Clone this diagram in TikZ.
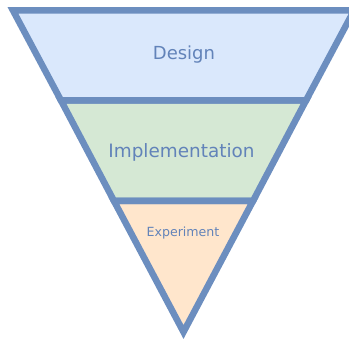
\documentclass[tikz,border=0pt]{standalone}
\usepackage{fontspec}
\setmainfont{DejaVu Sans}
\definecolor{edge}{HTML}{6C8EBF}
\definecolor{labelc}{HTML}{6283B9}
\definecolor{fillA}{HTML}{DAE8FC}
\definecolor{fillB}{HTML}{D5E8D4}
\definecolor{fillC}{HTML}{FFE6CC}
\tikzset{
  band/.style={draw=edge, line width=6.5pt, line join=miter},
  lbl/.style={text=labelc, inner sep=0pt, anchor=base}
}
\begin{document}
\begin{tikzpicture}[x=1pt, y=-1pt]
\useasboundingbox (0,0) rectangle (349,339);
% funnel levels, widest at the top
\coordinate (tl) at (13,10.5);
\coordinate (tr) at (354,10.5);
\coordinate (ml) at (61,100.5);
\coordinate (mr) at (306,100.5);
\coordinate (bl) at (114,201);
\coordinate (br) at (253,201);
\coordinate (apex) at (183.5,332);
\fill[fillA] (tl) -- (tr) -- (mr) -- (ml) -- cycle;
\fill[fillB] (ml) -- (mr) -- (br) -- (bl) -- cycle;
\fill[fillC] (bl) -- (br) -- (apex) -- cycle;
\draw[band] (tl) -- (tr) -- (mr) -- (ml) -- cycle;
\draw[band] (ml) -- (mr) -- (br) -- (bl) -- cycle;
\draw[band] (bl) -- (br) -- (apex) -- cycle;
% labels
\node[lbl, font=\fontsize{18}{18}\selectfont] (design) at (184,60) {Design};
\node[lbl, font=\fontsize{18.4}{18}\selectfont] (impl) at (181.5,157.5) {Implementation};
\node[lbl, font=\fontsize{12.6}{13}\selectfont] (exp) at (183,236.5) {Experiment};
\end{tikzpicture}
\end{document}
